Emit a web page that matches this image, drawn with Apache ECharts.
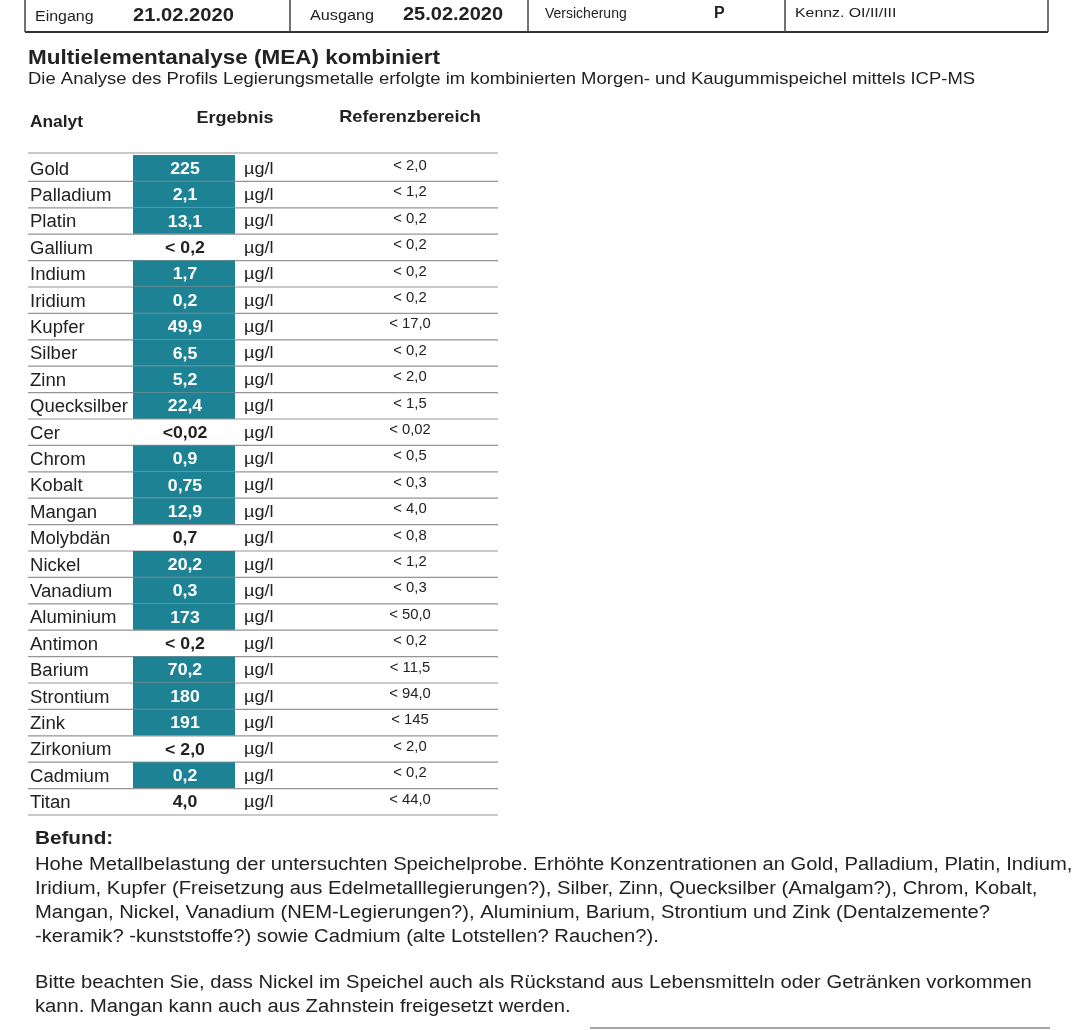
<!DOCTYPE html>
<html><head><meta charset="utf-8">
<script src="https://cdn.jsdelivr.net/npm/echarts@6/dist/echarts.min.js"></script>
<style>html,body{margin:0;padding:0;background:#fff}#c{width:1086px;height:1030px}</style>
</head><body><div id="c"></div>
<script>
const analytes = ['Gold','Palladium','Platin','Gallium','Indium','Iridium','Kupfer','Silber','Zinn','Quecksilber','Cer','Chrom','Kobalt','Mangan','Molybdän','Nickel','Vanadium','Aluminium','Antimon','Barium','Strontium','Zink','Zirkonium','Cadmium','Titan'];
const results = ['225','2,1','13,1','< 0,2','1,7','0,2','49,9','6,5','5,2','22,4','<0,02','0,9','0,75','12,9','0,7','20,2','0,3','173','< 0,2','70,2','180','191','< 2,0','0,2','4,0'];
const elevated = [1,1,1,0,1,1,1,1,1,1,0,1,1,1,0,1,1,1,0,1,1,1,0,1,0];
const units = 'µg/l';
const refs = ['< 2,0','< 1,2','< 0,2','< 0,2','< 0,2','< 0,2','< 17,0','< 0,2','< 2,0','< 1,5','< 0,02','< 0,5','< 0,3','< 4,0','< 0,8','< 1,2','< 0,3','< 50,0','< 0,2','< 11,5','< 94,0','< 145','< 2,0','< 0,2','< 44,0'];
const headerFields = [['Eingang','21.02.2020'],['Ausgang','25.02.2020'],['Versicherung','P'],['Kennz. OI/II/III','']];
const titleText = 'Multielementanalyse (MEA) kombiniert';
const subtitleText = 'Die Analyse des Profils Legierungsmetalle erfolgte im kombinierten Morgen- und Kaugummispeichel mittels ICP-MS';
const columnHeaders = ['Analyt','Ergebnis','Referenzbereich'];
const befundTitle = 'Befund:';
const befundLines = [
 'Hohe Metallbelastung der untersuchten Speichelprobe. Erhöhte Konzentrationen an Gold, Palladium, Platin, Indium,',
 'Iridium, Kupfer (Freisetzung aus Edelmetalllegierungen?), Silber, Zinn, Quecksilber (Amalgam?), Chrom, Kobalt,',
 'Mangan, Nickel, Vanadium (NEM-Legierungen?), Aluminium, Barium, Strontium und Zink (Dentalzemente?',
 '-keramik? -kunststoffe?) sowie Cadmium (alte Lotstellen? Rauchen?).'
];
const noteLines = [
 'Bitte beachten Sie, dass Nickel im Speichel auch als Rückstand aus Lebensmitteln oder Getränken vorkommen',
 'kann. Mangan kann auch aus Zahnstein freigesetzt werden.'
];

const FF = '"Liberation Sans", Arial, Helvetica, sans-serif';
const TEAL = '#1e8295';
const INK = '#222';
const LINE = '#959595';

function txt(x, y, text, size, bold, align, color, sx) {
  return {type:'text', x:x, y:y, scaleX: sx || 1, style:{text:text, fill:color||INK,
    font:(bold?'bold ':'')+size+'px '+FF, align:align||'left', textAlign:align||'left',
    verticalAlign:'middle', textVerticalAlign:'middle'}};
}
function ln(x1,y1,x2,y2,w,c){return {type:'line',shape:{x1:x1,y1:y1,x2:x2,y2:y2},style:{stroke:c||'#333',lineWidth:w||1}};}

const graphics = [];
// top box
graphics.push(ln(25,32,1048,32,2,'#333'));
[25,290,528,785,1048].forEach(x=>graphics.push(ln(x,0,x,32,1.5,'#444')));
graphics.push(txt(35,17,headerFields[0][0],14,false,'left',INK,1.14));
graphics.push(txt(133,16,headerFields[0][1],18,true,'left',INK,1.12));
graphics.push(txt(310,16,headerFields[1][0],14,false,'left',INK,1.16));
graphics.push(txt(403,15,headerFields[1][1],18,true,'left',INK,1.11));
graphics.push(txt(545,14,headerFields[2][0],14,false));
graphics.push(txt(714,14,headerFields[2][1],16,true));
graphics.push(txt(795,13,headerFields[3][0],13,false,'left',INK,1.22));
// titles
graphics.push(txt(28,58,titleText,21,true,'left',INK,1.07));
graphics.push(txt(28,79,subtitleText,17,false,'left',INK,1.086));
graphics.push(txt(30,122,columnHeaders[0],17,true,'left',INK,1.02));
graphics.push(txt(235,118,columnHeaders[1],17,true,'center',INK,1.06));
graphics.push(txt(410,117,columnHeaders[2],17,true,'center',INK,1.07));
// Befund
graphics.push(txt(35,838.5,befundTitle,19,true,'left',INK,1.09));
befundLines.forEach((l,i)=>graphics.push(txt(35,865.5+i*23.8,l,18,false,'left',INK,1.122)));
noteLines.forEach((l,i)=>graphics.push(txt(35,983+i*23.8,l,18,false,'left',INK,1.122)));
graphics.push(ln(590,1028,1050,1028,1.5,'#888'));

const chart = echarts.init(document.getElementById('c'), null, {renderer:'canvas'});
chart.setOption({
  animation:false,
  grid:{left:28, width:470, top:155, height:660},
  xAxis:{type:'value', min:0, max:470, show:false},
  yAxis:{type:'category', data:analytes, inverse:true, show:false},
  graphic: graphics,
  series:[{
    type:'custom',
    data: analytes.map((a,i)=>[0,i]),
    renderItem:function(params, api){
      const i = api.value(1);
      const c = api.coord([0,i]);
      const h = api.size([0,1])[1];
      const y = c[1], top = y-h/2, bot = y+h/2;
      const px = v => api.coord([v,i])[0];
      const children = [];
      if (elevated[i]) children.push({type:'rect', shape:{x:px(105), y:top, width:px(207)-px(105), height:h}, style:{fill:TEAL}});
      if (i===0) children.push(ln(px(0),top-2,px(470),top-2,1.2,LINE));
      children.push(ln(px(0),bot,px(470),bot,1.2,LINE));
      children.push(txt(px(2),y+1.5,analytes[i],18,false,'left',INK,1.03));
      children.push(txt(px(157),y+1,results[i],17,true,'center',elevated[i]?'#fff':INK,1.04));
      children.push(txt(px(216),y+1,units,16,false,'left',INK,1.13));
      children.push(txt(px(382),y-2,refs[i],14,false,'center',INK,1.06));
      return {type:'group', children:children};
    }
  }]
});
</script></body></html>
